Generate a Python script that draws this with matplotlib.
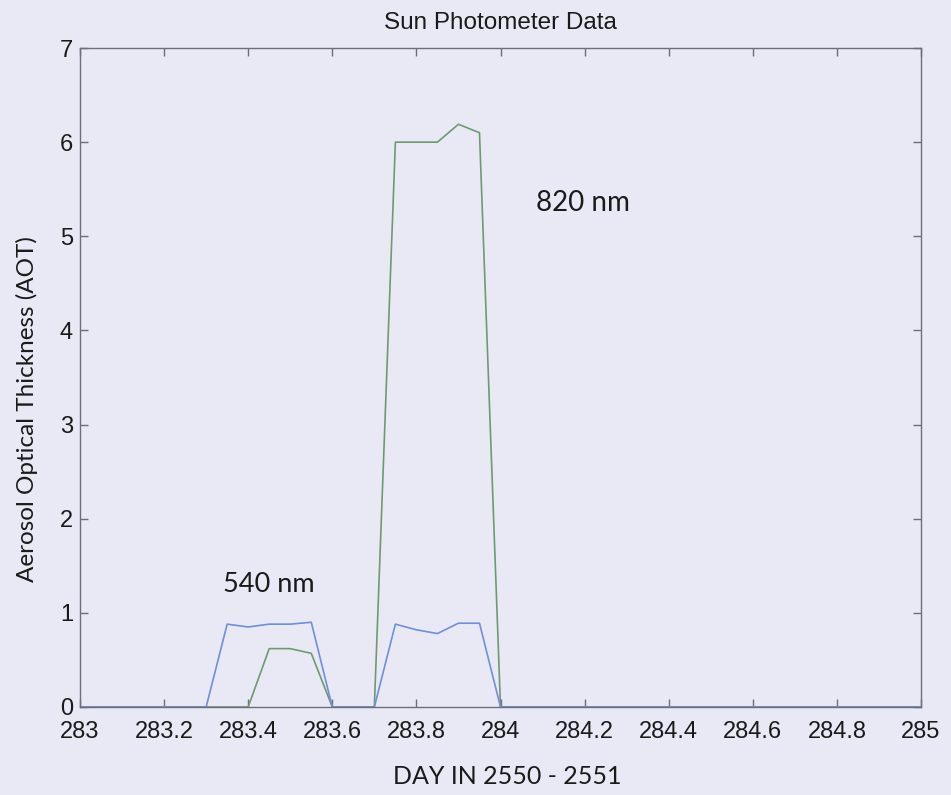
import matplotlib.pyplot as plt

# 540 nm series (blue)
day_540 = [283.0, 283.3, 283.35, 283.4, 283.45, 283.5, 283.55, 283.6,
           283.7, 283.75, 283.8, 283.85, 283.9, 283.95, 284.0, 285.0]
aot_540 = [0, 0, 0.88, 0.85, 0.88, 0.88, 0.90, 0,
           0, 0.88, 0.82, 0.78, 0.89, 0.89, 0, 0]

# 820 nm series (green)
day_820 = [283.0, 283.4, 283.45, 283.5, 283.55, 283.6,
           283.7, 283.75, 283.8, 283.85, 283.9, 283.95, 284.0, 285.0]
aot_820 = [0, 0, 0.62, 0.62, 0.57, 0,
           0, 6.0, 6.0, 6.0, 6.19, 6.1, 0, 0]

x_ticks = [283, 283.2, 283.4, 283.6, 283.8, 284, 284.2, 284.4, 284.6, 284.8, 285]
x_labels = ['283', '283.2', '283.4', '283.6', '283.8', '284',
            '284.2', '284.4', '284.6', '284.8', '285']
y_ticks = [0, 1, 2, 3, 4, 5, 6, 7]

bg = '#e9e9f6'
spine = '#6e6e78'

fig = plt.figure(figsize=(9.51, 7.95), dpi=100, facecolor=bg)
ax = fig.add_axes([0.0841, 0.1107, 0.8844, 0.8289], facecolor=bg)

ax.plot(day_820, aot_820, color='#6f9a70', lw=1.2)
ax.plot(day_540, aot_540, color='#6f8edb', lw=1.2)

ax.set_xlim(283, 285)
ax.set_ylim(0, 7)
ax.set_xticks(x_ticks)
ax.set_xticklabels(x_labels)
ax.set_yticks(y_ticks)

for s in ax.spines.values():
    s.set_color(spine)
    s.set_linewidth(1.0)

ax.tick_params(direction='in', top=True, right=True, length=6, width=1,
               color=spine, labelsize=17)
ax.tick_params(axis='x', pad=10)
ax.tick_params(axis='y', pad=5)
for lab in ax.get_xticklabels() + ax.get_yticklabels():
    lab.set_family('Liberation Sans')
    lab.set_color('#1a1a1a')

ax.set_title('Sun Photometer Data', family='Liberation Sans', fontsize=17.5,
             color='#1a1a1a', pad=14)
ax.set_xlabel('DAY IN 2550 - 2551', family='Lato', fontsize=18,
              color='#1a1a1a')
ax.set_ylabel('Aerosol Optical Thickness (AOT)', family='Lato', fontsize=17.5,
              color='#1a1a1a')
ax.xaxis.set_label_coords(0.508, -0.088)
ax.yaxis.set_label_coords(-0.05, 0.452)

ax.text(283.34, 1.22, '540 nm', family='Lato', fontsize=19.5, color='#1a1a1a')
ax.text(284.085, 5.27, '820 nm', family='Lato', fontsize=20, color='#1a1a1a')

fig.savefig('out.png', dpi=100, facecolor=bg)
